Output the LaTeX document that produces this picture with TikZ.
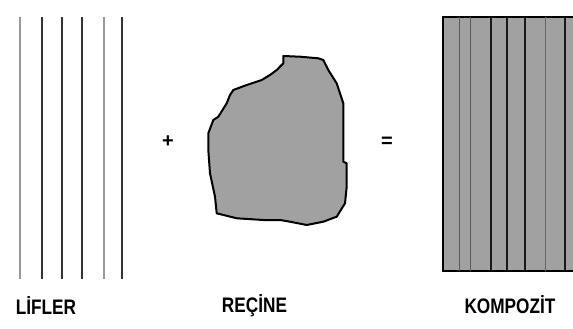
\documentclass[tikz,border=0pt]{standalone}
\usepackage{fontspec}
\setmainfont{Liberation Sans}
\begin{document}
\begin{tikzpicture}[x=1pt,y=-1pt,
  fiberdark/.style={line width=1.4pt,color=black!80},
  fiberlight/.style={line width=1.4pt,color=black!40},
  label/.style={font=\fontsize{21}{21}\selectfont\bfseries,inner sep=0pt},
  opsign/.style={font=\fontsize{20}{20}\selectfont\bfseries,inner sep=0pt},
  resin/.style={fill=black!37,draw=black,line width=2pt,line join=round}]
\useasboundingbox (0,0) rectangle (573,329);
% fibers
\draw[fiberlight] (20,17) -- (20,279);
\draw[fiberdark] (42,17) -- (42,279);
\draw[fiberdark] (62,17) -- (62,279);
\draw[fiberdark] (82,17) -- (82,279);
\draw[fiberlight] (104,17) -- (104,279);
\draw[fiberdark] (122,17) -- (122,279);
\node[label] (lifler) at (46,306) {\scalebox{0.82}[1]{LİFLER}};
% plus
\node[opsign] (plus) at (168,142) {+};
% resin blob
\draw[resin] (283.3,56) -- (283.3,63.3) -- (276.7,70) -- (270,75) -- (261.7,80) -- (246.7,85) -- (233.3,90) -- (230,95) -- (226.7,103.3) -- (218.3,116.7) -- (213.3,120) -- (208.3,133.3) -- (208.3,150) -- (210,173.3) -- (215,196.7) -- (216.7,213.3) -- (236.7,218.3) -- (263.3,220) -- (280,220) -- (290,221.7) -- (306.7,225) -- (323.3,221.7) -- (336.7,216.7) -- (345,203.3) -- (346.7,186.7) -- (346.7,163.3) -- (343.3,161.7) -- (343.3,103.3) -- (336.7,83.3) -- (328.3,70) -- (323.3,60) -- (318.3,58.3) -- (300,56.7) -- cycle;
\node[label] (recine) at (254.5,306) {\scalebox{0.82}[1]{REÇİNE}};
% equals
\node[opsign] (equals) at (387,142) {=};
% composite
\begin{scope}
\clip (0,0) rectangle (573,329);
\draw[fill=black!37,draw=black,line width=1.4pt] (443,17) rectangle (580,271);
\draw[line width=1pt,color=black!65] (459,17) -- (459,271);
\draw[line width=1pt,color=black!65] (470,17) -- (470,271);
\draw[line width=1.3pt,color=black!90] (491,17) -- (491,271);
\draw[line width=1.3pt,color=black!90] (507,17) -- (507,271);
\draw[line width=1.3pt,color=black!90] (525,17) -- (525,271);
\draw[line width=1pt,color=black!60] (545,17) -- (545,271);
\draw[line width=1.3pt,color=black!90] (565,17) -- (565,271);
\end{scope}
\node[label] (kompozit) at (510,305) {\scalebox{0.82}[1]{KOMPOZİT}};
\end{tikzpicture}
\end{document}
